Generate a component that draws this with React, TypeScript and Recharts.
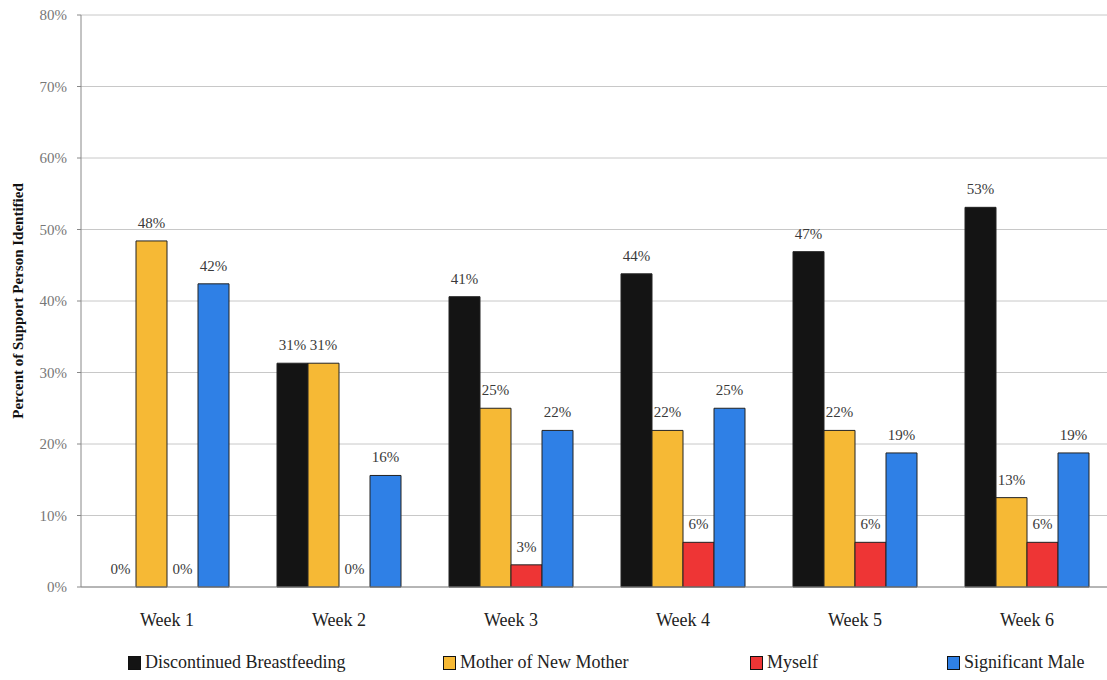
import React from 'react'
import {
  BarChart,
  Bar,
  Cell,
  XAxis,
  YAxis,
  CartesianGrid,
  Legend,
  LabelList,
  Label,
} from 'recharts'

const weeks = ['Week 1', 'Week 2', 'Week 3', 'Week 4', 'Week 5', 'Week 6']
const discontinued = [0, 31.3, 40.6, 43.8, 46.9, 53.1]
const motherOfMother = [48.4, 31.3, 25, 21.9, 21.9, 12.5]
const myself = [0, 0, 3.1, 6.25, 6.25, 6.25]
const significantMale = [42.4, 15.6, 21.9, 25, 18.75, 18.75]
const yTicks = [0, 10, 20, 30, 40, 50, 60, 70, 80]

const SERIF = "'Liberation Serif', 'DejaVu Serif', serif"

const series = [
  { key: 'discontinued', name: 'Discontinued Breastfeeding', color: '#141414', values: discontinued },
  { key: 'mother', name: 'Mother of New Mother', color: '#F6B935', values: motherOfMother },
  { key: 'myself', name: 'Myself', color: '#EE3535', values: myself },
  { key: 'male', name: 'Significant Male', color: '#2F80E6', values: significantMale },
]

const data = weeks.map((w, i) => ({
  week: w,
  discontinued: discontinued[i],
  mother: motherOfMother[i],
  myself: myself[i],
  male: significantMale[i],
}))

// left edge of each legend item
const legendLeft = [128, 443, 750, 947]

function LegendContent() {
  return (
    <div style={{ position: 'relative', height: 24, fontFamily: SERIF, fontSize: 18, color: '#222' }}>
      {series.map((s, i) => (
        <div
          key={s.key}
          style={{ position: 'absolute', left: legendLeft[i], top: 0, display: 'flex', alignItems: 'center', whiteSpace: 'nowrap' }}
        >
          <span
            style={{
              display: 'inline-block',
              width: 11,
              height: 12,
              background: s.color,
              border: '1px solid #111',
              marginRight: 4,
            }}
          />
          <span style={{ fontFamily: SERIF, fontSize: 18 }}>{s.name}</span>
        </div>
      ))}
    </div>
  )
}

// value labels sit above each bar, zero bars included
const renderValueLabel = (props: any) => {
  const { x, y, width, value } = props
  if (value === undefined || value === null) return null
  return (
    <text
      x={Number(x) + Number(width) / 2}
      y={Number(y) - 13}
      textAnchor="middle"
      fontFamily={SERIF}
      fontSize={15}
      fill="#3a3a3a"
    >
      {`${Math.round(Number(value))}%`}
    </text>
  )
}

export default function App() {
  return (
    <div style={{ position: 'absolute', top: 0, left: 0, width: 1107, height: 680, background: '#fff', overflow: 'hidden', fontFamily: SERIF }}>
      <BarChart
        width={1107}
        height={680}
        data={data}
        margin={{ top: 15, right: -6, bottom: 0, left: 0 }}
        barCategoryGap={24}
        barGap={0}
      >
        <CartesianGrid vertical={false} stroke="#c8c8c8" />
        <XAxis
          dataKey="week"
          height={93}
          tickLine={false}
          axisLine={{ stroke: '#888' }}
          tickMargin={20}
          tick={{ fontFamily: SERIF, fontSize: 18, fill: '#222' }}
          interval={0}
        />
        <YAxis
          width={81}
          domain={[0, 80]}
          ticks={yTicks}
          tickFormatter={(v) => `${v}%`}
          axisLine={{ stroke: '#888' }}
          tickLine={{ stroke: '#888' }}
          tickSize={4}
          tickMargin={10}
          tick={{ fontFamily: SERIF, fontSize: 15, fill: '#777' }}
          interval={0}
        >
          <Label
            content={({ viewBox }: any) => {
              const cx = viewBox.x + 18
              const cy = viewBox.y + viewBox.height / 2
              return (
                <text
                  transform={`translate(${cx},${cy}) rotate(-90)`}
                  textAnchor="middle"
                  dominantBaseline="central"
                  fontFamily={SERIF}
                  fontWeight="bold"
                  fontSize={15}
                  fill="#111"
                >
                  Percent of Support Person Identified
                </text>
              )
            }}
          />
        </YAxis>
        <Legend
          layout="horizontal"
          verticalAlign="middle"
          wrapperStyle={{ top: 652, left: 0, width: 1107, fontFamily: SERIF }}
          content={<LegendContent />}
        />
        {series.map((s) => (
          <Bar
            key={s.key}
            dataKey={s.key}
            name={s.name}
            fill={s.color}
            stroke="#222"
            strokeWidth={1}
            barSize={31}
            minPointSize={(v: any) => (Number(v) === 0 ? 0.01 : 0)}
            isAnimationActive={false}
          >
            {s.values.map((v, i) => (
              <Cell key={i} stroke={v === 0 ? 'none' : '#222'} fill={v === 0 ? 'none' : s.color} />
            ))}
            <LabelList dataKey={s.key} position="top" content={renderValueLabel} />
          </Bar>
        ))}
      </BarChart>
    </div>
  )
}
